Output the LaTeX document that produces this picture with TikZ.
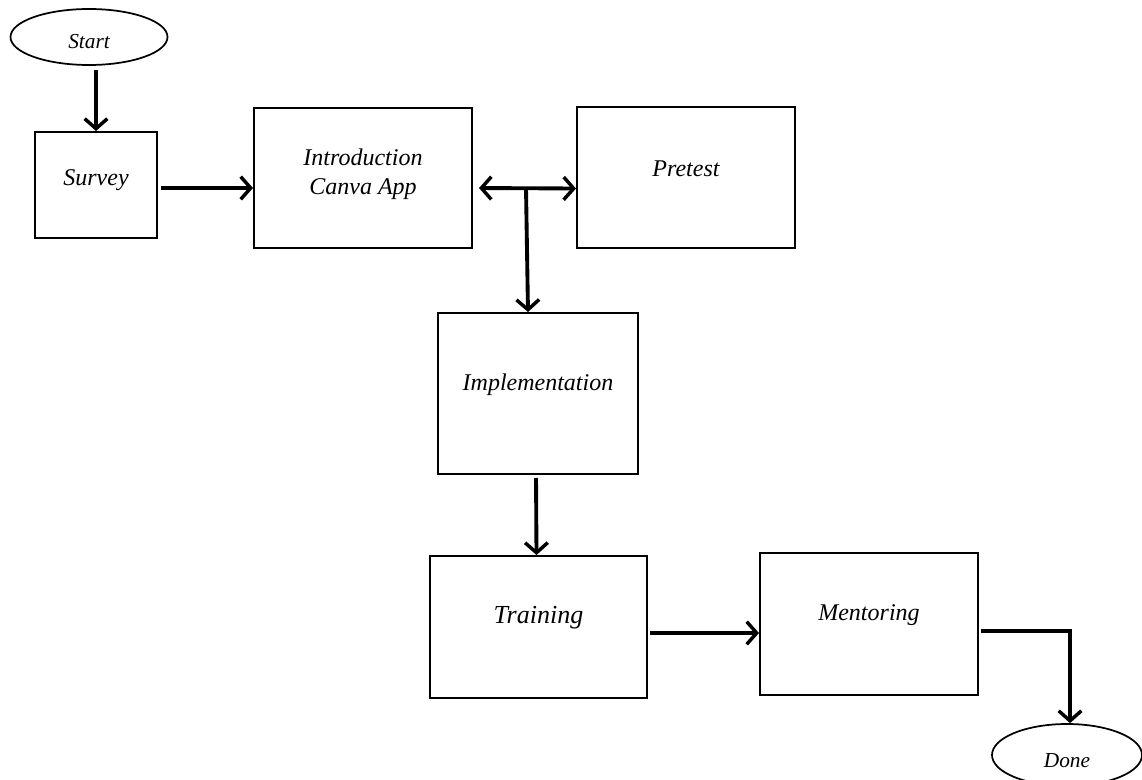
\documentclass[tikz,border=0pt]{standalone}
\usepackage{fontspec}
\setmainfont{Liberation Serif}
\usetikzlibrary{arrows.meta,shapes.geometric,calc}
\tikzset{
  boxnode/.style={draw,line width=1.5pt,rectangle,inner sep=0pt},
  ovalnode/.style={draw,line width=1.3pt,ellipse,inner sep=0pt,font=\fontsize{16}{19}\selectfont\itshape},
  txt/.style={font=\fontsize{18}{22}\selectfont\itshape,align=center,yshift=6.75pt},
  conn/.style={line width=2.9pt,-{Straight Barb[length=7.5pt,width=17pt,line width=2.6pt]}},
  dconn/.style={line width=2.9pt,{Straight Barb[length=7.5pt,width=17pt,line width=2.6pt]}-{Straight Barb[length=7.5pt,width=17pt,line width=2.6pt]}}
}
\begin{document}
\begin{tikzpicture}[x=0.75pt,y=-0.75pt]
\useasboundingbox (0,0) rectangle (1142,780);
\clip (0,0) rectangle (1142,780);
\node[ovalnode,minimum width=117.75pt,minimum height=42pt,label={[ovalnode,draw=none,yshift=-3.5pt]center:Start}] (start) at (89,37) {};
\node[boxnode,minimum width=91.5pt,minimum height=79.5pt,label={[txt,yshift=-3pt]center:Survey}] (survey) at (96,185) {};
\node[boxnode,minimum width=163.5pt,minimum height=105pt,label={[txt,yshift=-3.75pt]center:Introduction\\Canva App}] (intro) at (363,178) {};
\node[boxnode,minimum width=163.5pt,minimum height=105.75pt,label={[txt]center:Pretest}] (pretest) at (686,177.5) {};
\node[boxnode,minimum width=150pt,minimum height=120.75pt,label={[txt]center:Implementation}] (impl) at (538,393.5) {};
\node[boxnode,minimum width=162.75pt,minimum height=106.5pt,label={[txt,font=\fontsize{19.5}{23}\selectfont\itshape]center:Training}] (training) at (538.5,627) {};
\node[boxnode,minimum width=163.5pt,minimum height=106.5pt,label={[txt]center:Mentoring}] (mentoring) at (869,624) {};
\node[ovalnode,minimum width=112.5pt,minimum height=46.5pt,label={[ovalnode,draw=none,yshift=-4pt]center:Done}] (done) at (1067,755) {};

\coordinate (j) at (526,188);
\draw[conn,shorten <=3pt] ($(start.south)+(5.25pt,0)$) -- ($(survey.north)$);
\draw[conn,shorten <=2.25pt] ($(survey.east)+(0,-2.25pt)$) -- ($(intro.west)+(0,-7.5pt)$);
\draw[dconn,shorten <=4.5pt] ($(intro.east)+(0,-7.5pt)$) -- ($(pretest.west)+(0,-8.25pt)$);
\draw[conn] (j) -- ($(impl.north)+(-7.5pt,0)$);
\draw[conn,shorten <=2.25pt] ($(impl.south)+(-1.5pt,0)$) -- ($(training.north)+(-1.5pt,0)$);
\draw[conn,shorten <=1.5pt] ($(training.east)+(0,-4.5pt)$) -- ($(mentoring.west)+(0,-6.75pt)$);
\draw[conn,shorten <=1.5pt] ($(mentoring.east)+(0,-5.25pt)$) -| ($(done.north)+(2.25pt,0)$);
\end{tikzpicture}
\end{document}
